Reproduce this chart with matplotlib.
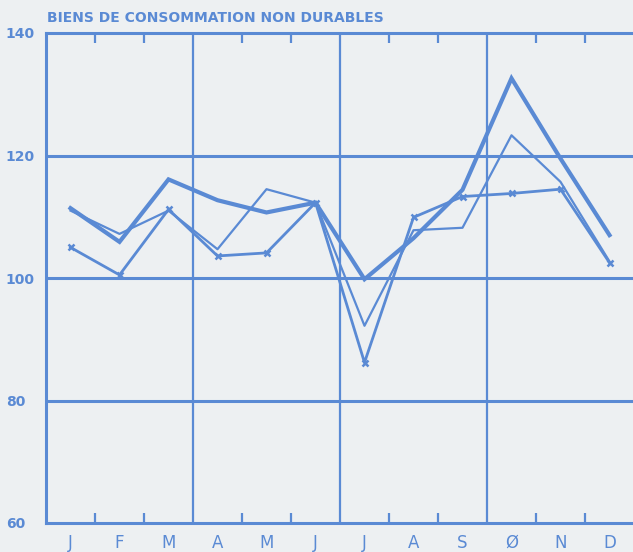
import numpy as np
from matplotlib import pyplot as plt

months = ['J', 'F', 'M', 'A', 'M', 'J', 'J', 'A', 'S', 'Ø', 'N', 'D']
thick = [111.4, 105.9, 116.1, 112.7, 110.7, 112.3, 99.8, 106.5, 114.4, 132.6, 119.5, 107.0]
thin = [111.0, 107.2, 111.0, 104.7, 114.5, 112.3, 92.2, 107.8, 108.2, 123.3, 115.7, 102.7]
crosses = [105.0, 100.5, 111.2, 103.6, 104.1, 112.3, 86.2, 109.9, 113.3, 113.8, 114.5, 102.5]
yticks = [60, 80, 100, 120, 140]

blue = '#5a8ad4'
bg = '#edf0f2'

fig = plt.figure(figsize=(6.33, 5.52), dpi=100, facecolor=bg)
ax = fig.add_axes([46 / 633, 29 / 552, 588 / 633, 490 / 552], facecolor=bg)

x = np.arange(len(months)) + 0.5
ax.plot(x, thick, color=blue, lw=3.0, solid_joinstyle='miter', zorder=3)
ax.plot(x, thin, color=blue, lw=1.6, zorder=3)
ax.plot(x, crosses, color=blue, lw=2.0, marker='x', ms=5, mew=1.8, zorder=3)

ax.set_xlim(0, 12)
ax.set_ylim(60, 140)

# grid: horizontal lines and quarter separators
for v in [80, 100, 120]:
    ax.axhline(v, color=blue, lw=2.2, zorder=2)
for q in [3, 6, 9]:
    ax.axvline(q, color=blue, lw=1.6, zorder=2)

for side in ['left', 'bottom', 'top']:
    ax.spines[side].set_color(blue)
    ax.spines[side].set_linewidth(2.2)
ax.spines['right'].set_visible(False)

ax.set_xticks([1, 2, 4, 5, 7, 8, 10, 11])
ax.set_xticklabels([])
ax.tick_params(axis='x', which='major', direction='in', length=7, width=1.6,
               color=blue, top=True)
ax.set_xticks(x, minor=True)
ax.set_xticklabels(months, minor=True, fontsize=12, color=blue)
ax.tick_params(axis='x', which='minor', length=0, pad=8)

ax.set_yticks(yticks)
ax.set_yticklabels([str(v) for v in yticks], fontsize=10, fontweight='bold',
                   color=blue)
ax.tick_params(axis='y', length=0, pad=29)
for lab in ax.get_yticklabels():
    lab.set_horizontalalignment('left')

fig.text(47 / 633, 1 - 22 / 552, 'BIENS DE CONSOMMATION NON DURABLES',
         fontsize=10, fontweight='bold', color=blue, ha='left', va='baseline')

fig.savefig('out.png', dpi=100, facecolor=bg)
